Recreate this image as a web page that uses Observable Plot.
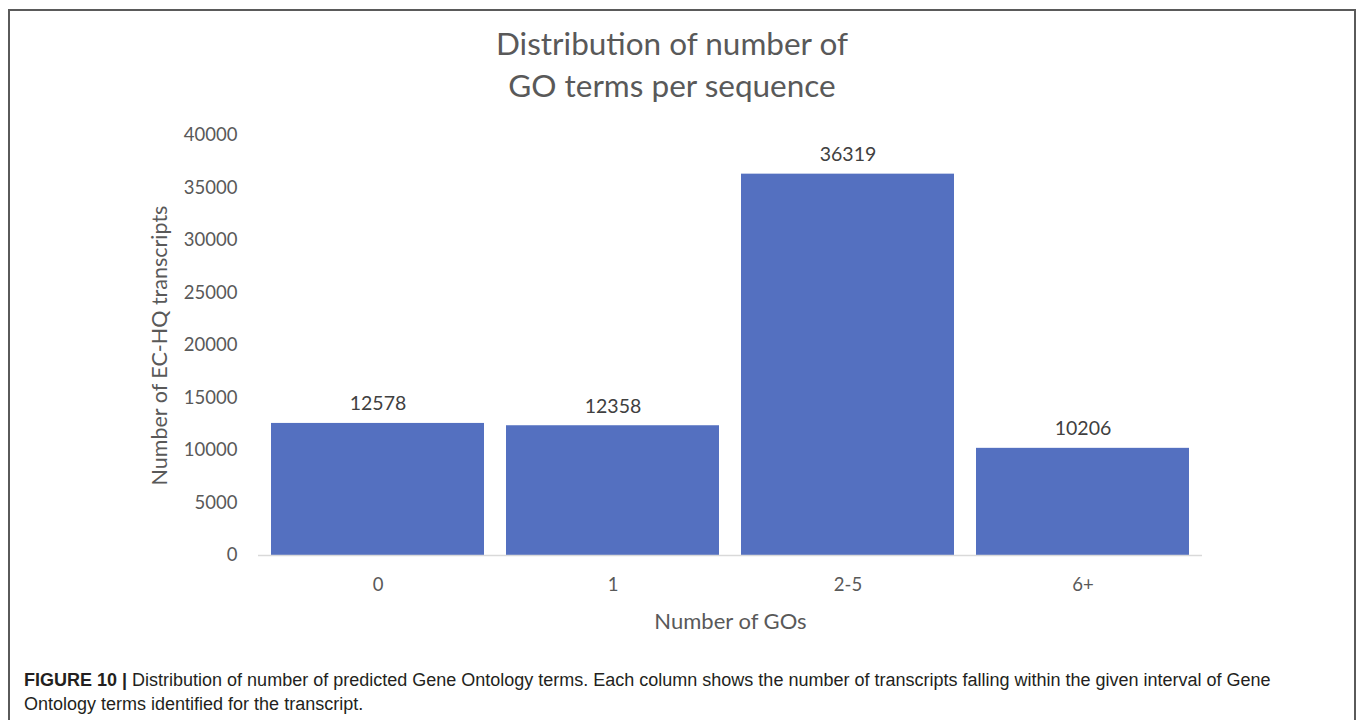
<!DOCTYPE html>
<html>
<head>
<meta charset="utf-8">
<script src="https://cdn.jsdelivr.net/npm/d3@7"></script>
<script src="https://cdn.jsdelivr.net/npm/@observablehq/plot@0.6"></script>
<style>
  body { margin: 0; background: #fff; width: 1358px; height: 720px; overflow: hidden; position: relative; font-family: Lato, sans-serif; }
  #frame { position: absolute; z-index: 2; left: 8px; top: 9px; width: 1348px; height: 760px; border: 2px solid #5a5a5a; box-sizing: border-box; pointer-events: none; }
  #title { position: absolute; left: 0; top: 22px; width: 1344px; text-align: center; font-size: 31.5px; line-height: 42px; color: #595959; }
  #chart { position: absolute; left: 0; top: 110px; }
  #caption { position: absolute; left: 24px; top: 668px; font-family: "Liberation Sans", Arial, sans-serif; font-size: 18px; line-height: 24px; color: #231f20; white-space: nowrap; }
</style>
</head>
<body>
<div id="title">Distribution of number of<br>GO terms per sequence</div>
<div id="chart"></div>
<div id="caption"><b>FIGURE 10 |</b> Distribution of number of predicted Gene Ontology terms. Each column shows the number of transcripts falling within the given interval of Gene<br>Ontology terms identified for the transcript.</div>
<div id="frame"></div>
<script>
// GO-term count bins and number of transcripts in each
const categories = ["0", "1", "2-5", "6+"];
const counts = [12578, 12358, 36319, 10206];
const yTicks = [0, 5000, 10000, 15000, 20000, 25000, 30000, 35000, 40000];

const data = categories.map((go, i) => ({go, n: counts[i]}));

const tickColor = "#595959";

const chart = Plot.plot({
  width: 1358,
  height: 530,
  marginLeft: 258,
  marginRight: 156,
  marginTop: 25,
  marginBottom: 85,
  style: {fontFamily: "Lato, sans-serif", background: "transparent"},
  x: {domain: categories, paddingInner: 0.093, paddingOuter: 0.0466, label: null},
  y: {domain: [0, 40000], label: null},
  marks: [
    Plot.barY(data, {x: "go", y: "n", fill: "#5470c0"}),
    Plot.ruleY([0], {stroke: "#d9d9d9", strokeWidth: 1.5}),
    Plot.text(data, {x: "go", y: "n", text: d => String(d.n), dy: -13, lineAnchor: "bottom", fontSize: 19.5, fill: "#404040"}),
    Plot.axisX({tickSize: 0, tickPadding: 22, fontSize: 18.5, color: tickColor, label: null}),
    Plot.axisX({ticks: [], tickSize: 0, fontSize: 22, color: tickColor, label: "Number of GOs", labelAnchor: "center", labelArrow: "none", labelOffset: 73}),
    Plot.axisY({ticks: yTicks, tickSize: 0, tickPadding: 21, tickFormat: d => String(d), fontSize: 18.5, color: tickColor, label: null}),
    Plot.axisY({ticks: [], tickSize: 0, fontSize: 21.5, color: tickColor, label: "Number of EC-HQ transcripts", labelAnchor: "center", labelArrow: "none", labelOffset: 107})
  ]
});

document.getElementById("chart").append(chart);
</script>
</body>
</html>
